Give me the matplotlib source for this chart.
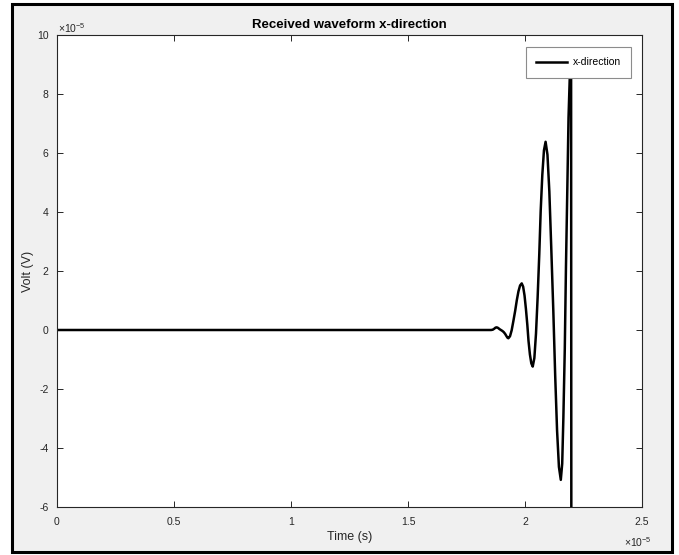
import numpy as np
import matplotlib
matplotlib.use("Agg")
import matplotlib.pyplot as plt
from matplotlib.patches import Rectangle
from matplotlib.ticker import FuncFormatter

# ===== DATA (time and volt in units of 1e-5) =====
time_e5 = [0.0, 1.855, 1.862, 1.868, 1.874, 1.879, 1.885, 1.891, 1.897, 1.903, 1.909,
           1.915, 1.921, 1.925, 1.929,
           1.936, 1.943, 1.950, 1.958, 1.965, 1.972, 1.979, 1.986,
           1.992, 1.998, 2.004, 2.010, 2.015, 2.021, 2.027, 2.033,
           2.040, 2.047, 2.054, 2.061, 2.067, 2.074, 2.081, 2.088,
           2.096, 2.104, 2.112, 2.121, 2.129, 2.137, 2.145, 2.153,
           2.159, 2.164, 2.170, 2.175, 2.181, 2.186, 2.192, 2.197, 2.1985]
volt_e5 = [0.0, 0.0, 0.01, 0.04, 0.08, 0.09, 0.07, 0.03, 0.0, -0.03, -0.07,
           -0.13, -0.21, -0.26, -0.28,
           -0.21, -0.01, 0.29, 0.65, 1.01, 1.31, 1.51, 1.58,
           1.47, 1.17, 0.71, 0.17, -0.37, -0.83, -1.13, -1.24,
           -0.95, -0.12, 1.11, 2.57, 4.03, 5.26, 6.09, 6.38,
           5.94, 4.70, 2.84, 0.65, -1.54, -3.40, -4.64, -5.08,
           -4.53, -2.97, -0.64, 2.11, 4.86, 7.20, 8.75, 9.30, -15.0]

x_ticks = [0, 0.5, 1, 1.5, 2, 2.5]
y_ticks = [-6, -4, -2, 0, 2, 4, 6, 8, 10]

t = np.array(time_e5) * 1e-5
v = np.array(volt_e5) * 1e-5

plt.rcParams['font.family'] = ['Liberation Sans', 'DejaVu Sans']
plt.rcParams['mathtext.fontset'] = 'custom'
plt.rcParams['mathtext.rm'] = 'Liberation Sans'
plt.rcParams['mathtext.it'] = 'Liberation Sans'
plt.rcParams['mathtext.bf'] = 'Liberation Sans:bold'
plt.rcParams['axes.unicode_minus'] = False

W, H = 679, 555
fig = plt.figure(figsize=(W / 100, H / 100), dpi=100, facecolor="white")

# gray window with black frame
frame = Rectangle((12 / W, 3 / H), 660 / W, 548 / H, transform=fig.transFigure,
                  facecolor="#f0f0f0", edgecolor="black", linewidth=2.2, zorder=-10)
fig.patches.append(frame)

ax = fig.add_axes([57 / W, 48 / H, 585 / W, 472 / H])
ax.set_zorder(5)
ax.set_facecolor("white")

ax.plot(t, v, color="black", linewidth=1.8, label="x-direction", solid_joinstyle="round")

ax.set_xlim(0, 2.5e-5)
ax.set_ylim(-6e-5, 10e-5)
ax.set_xticks(np.array(x_ticks) * 1e-5)
ax.set_yticks(np.array(y_ticks) * 1e-5)
ax.xaxis.set_major_formatter(FuncFormatter(lambda val, pos: f"{val * 1e5:g}"))
ax.yaxis.set_major_formatter(FuncFormatter(lambda val, pos: f"{val * 1e5:g}"))

ax.tick_params(direction="in", length=4, width=0.7, colors="#262626", labelsize=7.5,
               top=True, right=True)
ax.tick_params(axis="x", pad=7)
ax.tick_params(axis="y", pad=6)
for sp in ax.spines.values():
    sp.set_color("#262626")
    sp.set_linewidth(0.8)

ax.set_title("Received waveform x-direction", fontsize=9.5, fontweight="bold", color="#000000", pad=5)
ax.set_xlabel("Time (s)", fontsize=9, color="#262626", labelpad=3)
ax.set_ylabel("Volt (V)", fontsize=9, color="#262626", labelpad=2)

# exponent labels
fig.text(58 / W, 1 - 28 / H, "\u00d710$^{-5}$", fontsize=7.5, color="#262626", va="center", ha="left")
fig.text(652 / W, 1 - 542 / H, "\u00d710$^{-5}$", fontsize=7.5, color="#262626", va="center", ha="right")

leg = ax.legend(loc="upper right", bbox_to_anchor=(631 / W, 1 - 47 / H), bbox_transform=fig.transFigure,
                fontsize=7.5, frameon=True, fancybox=False, framealpha=1, edgecolor="#8c8c8c",
                handlelength=3.0, handletextpad=0.5, borderpad=1.0, borderaxespad=0)
leg.get_frame().set_linewidth(0.8)

fig.savefig("out.png", dpi=100, facecolor=fig.get_facecolor())
